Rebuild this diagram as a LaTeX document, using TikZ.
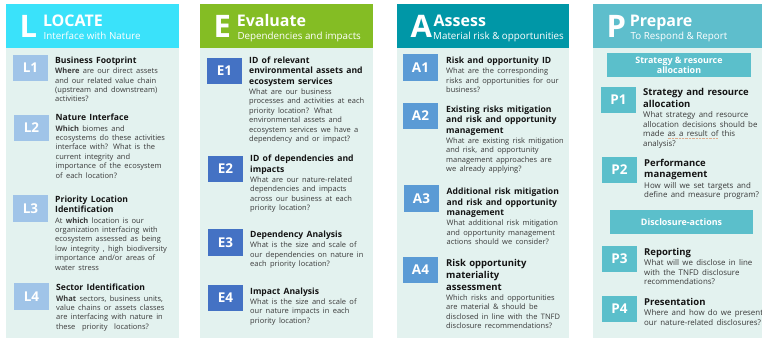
\documentclass[tikz,border=0pt]{standalone}
\usepackage{fontspec}
\setmainfont{Open Sans}

\definecolor{hdrL}{RGB}{58,226,250}
\definecolor{hdrE}{RGB}{132,189,36}
\definecolor{hdrA}{RGB}{0,151,167}
\definecolor{hdrP}{RGB}{94,190,204}
\definecolor{bodybg}{RGB}{227,242,239}
\definecolor{badgeL}{RGB}{160,196,232}
\definecolor{badgeE}{RGB}{68,114,196}
\definecolor{badgeA}{RGB}{91,155,213}
\definecolor{badgeP}{RGB}{91,191,203}
\definecolor{titlecol}{RGB}{20,20,20}
\definecolor{bodycol}{RGB}{58,58,58}
\definecolor{spell}{RGB}{222,170,140}

% fonts
\newcommand\bigletter{\fontsize{31}{31}\selectfont\bfseries}
\newcommand\hdrtitle{\fontsize{16}{16}\selectfont\bfseries}
\newcommand\hdrsub{\fontsize{9.8}{9.8}\selectfont}
\newcommand\badgefont{\fontsize{13.5}{13.5}\selectfont\bfseries}
\newcommand\tfont{\fontsize{8.6}{10.4}\selectfont\bfseries\color{titlecol}}
\newcommand\tfontL{\fontsize{9.5}{11.6}\selectfont\bfseries\color{titlecol}}
\newcommand\bfont{\fontsize{7.5}{9.4}\selectfont\color{bodycol}}
\newcommand\bfontP{\fontsize{7.9}{9.5}\selectfont\color{bodycol}}
\newcommand\subfont{\fontsize{8.9}{10}\selectfont\bfseries}

% one entry: title font, title, body font, body
\newcommand\entry[4]{{\leavevmode#1\rule{0pt}{7.5pt}#2\par}\vspace{0.8pt}{\leavevmode#3#4\par}}
% spell-check style dotted underline
\newlength\spellw
\newcommand\spellmark[1]{\settowidth\spellw{#1}%
  \rlap{\textcolor{spell}{\hbox to\spellw{\xleaders\hbox{\rule[-1.9pt]{0.8pt}{0.4pt}\kern0.6pt}\hfill}}}#1}

\tikzset{
  hdrbox/.style={rectangle, inner sep=0, anchor=north west, minimum width=#1, minimum height=44pt},
  panel/.style={rectangle, inner sep=0, anchor=north west, fill=bodybg, minimum width=#1, minimum height=290pt},
  letter/.style={anchor=base west, inner sep=0, text=white, font=\bigletter},
  htitle/.style={anchor=base west, inner sep=0, text=white, font=\hdrtitle, text depth=0pt},
  hsub/.style={anchor=base west, inner sep=0, text=white, font=\hdrsub, text height=5pt},
  badge/.style={rectangle, inner sep=0, minimum width=35pt, minimum height=26.5pt, text=white, font=\badgefont},
  txt/.style={anchor=north west, inner sep=0, align=left, text width=150pt},
  subhead/.style={rectangle, inner sep=0, fill=badgeP, text=white, font=\subfont, align=center, minimum width=#1, minimum height=24pt}
}

\begin{document}
\begin{tikzpicture}[x=1pt,y=-1pt]
\useasboundingbox[fill=white] (0,0) rectangle (762,340);

% ---------------- panels and headers ----------------
\node[panel=173pt] (Lbody) at (6,48) {};
\node[panel=173pt] (Ebody) at (200,48) {};
\node[panel=172pt] (Abody) at (397,48) {};
\node[panel=169pt] (Pbody) at (593,48) {};

\node[hdrbox=173pt, fill=hdrL] (Lhdr) at (6,4) {};
\node[hdrbox=173pt, fill=hdrE] (Ehdr) at (200,4) {};
\node[hdrbox=172pt, fill=hdrA] (Ahdr) at (397,4) {};
\node[hdrbox=169pt, fill=hdrP] (Phdr) at (593,4) {};

\node[letter] (Lletter) at (19.5,37) {L};
\node[htitle] (Ltitle) at (42.8,27) {LOCATE};
\node[hsub]   (Lsub)   at (43.5,39) {Interface with Nature};

\node[letter] (Eletter) at (213.5,37) {E};
\node[htitle] (Etitle) at (236.6,27) {Evaluate};
\node[hsub]   (Esub)   at (237.3,39) {Dependencies and impacts};

\node[letter] (Aletter) at (410.5,37) {A};
\node[htitle] (Atitle) at (433.5,27) {Assess};
\node[hsub]   (Asub)   at (433,39) {Material risk \& opportunities};

\node[letter] (Pletter) at (606.5,37) {P};
\node[htitle] (Ptitle) at (629.6,27) {Prepare};
\node[hsub]   (Psub)   at (630.5,39) {To Respond \& Report};

% ---------------- LOCATE ----------------
\node[badge, fill=badgeL] (L1b) at (30.5,68) {L1};
\node[badge, fill=badgeL] (L2b) at (31.5,128) {L2};
\node[badge, fill=badgeL] (L3b) at (30.5,208.5) {L3};
\node[badge, fill=badgeL] (L4b) at (31.5,296.5) {L4};

\node[txt] (L1t) at (55,55.8) {\entry{\tfont}{Business Footprint}{\bfont}{%
\textbf{Where} are our direct assets\\and our related value chain\\(upstream and downstream)\\activities?}};
\node[txt] (L2t) at (55.5,113.2) {\entry{\tfont}{Nature Interface}{\bfont}{%
\textbf{Which} biomes and\\ecosystems do these activities\\interface with? What is the\\current integrity and\\importance of the ecosystem\\of each location?}};
\node[txt] (L3t) at (55,194.8) {\entry{\tfont}{Priority Location\\Identification}{\bfont}{%
At \textbf{which} location is our\\organization interfacing with\\ecosystem assessed as being\\low integrity , high biodiversity\\importance and/or areas of\\water stress}};
\node[txt] (L4t) at (56,283.2) {\entry{\tfont}{Sector Identification}{\bfont}{%
\textbf{What} sectors, business units,\\value chains or assets classes\\are interfacing with nature in\\these\ \ priority\ \ locations?}};

% ---------------- EVALUATE ----------------
\node[badge, fill=badgeE] (E1b) at (224.5,71) {E1};
\node[badge, fill=badgeE] (E2b) at (225.5,169) {E2};
\node[badge, fill=badgeE] (E3b) at (225.5,242.5) {E3};
\node[badge, fill=badgeE] (E4b) at (225.5,298) {E4};

\node[txt] (E1t) at (249,55.8) {\entry{\tfont}{ID of relevant\\environmental assets and\\ecosystem services}{\bfont}{%
What are our business\\processes and activities at each\\priority location? What\\environmental assets and\\ecosystem services we have a\\dependency and or impact?}};
\node[txt] (E2t) at (250,154.2) {\entry{\tfont}{ID of dependencies and\\impacts}{\bfont}{%
What are our nature-related\\dependencies and impacts\\across our business at each\\priority location?}};
\node[txt] (E3t) at (250,230) {\entry{\tfont}{Dependency Analysis}{\bfont}{%
What is the size and scale of\\our dependencies on nature in\\each priority location?}};
\node[txt] (E4t) at (250,286.5) {\entry{\tfont}{Impact Analysis}{\bfont}{%
What is the size and scale of\\our nature impacts in each\\priority location?}};

% ---------------- ASSESS ----------------
\node[badge, fill=badgeA] (A1b) at (420.5,67.5) {A1};
\node[badge, fill=badgeA] (A2b) at (420.5,116) {A2};
\node[badge, fill=badgeA] (A3b) at (421.5,198.5) {A3};
\node[badge, fill=badgeA] (A4b) at (420.5,270) {A4};

\node[txt] (A1t) at (446,55.8) {\entry{\tfont}{Risk and opportunity ID}{\bfont}{%
What are the corresponding\\risks and opportunities for our\\business?}};
\node[txt] (A2t) at (446,104.5) {\entry{\tfont}{Existing risks mitigation\\and risk and opportunity\\management}{\bfont}{%
What are existing risk mitigation\\and risk, and opportunity\\management approaches are\\we already applying?}};
\node[txt] (A3t) at (446.5,187.2) {\entry{\tfont}{Additional risk mitigation\\and risk and opportunity\\management}{\bfont}{%
What additional risk mitigation\\and opportunity management\\actions should we consider?}};
\node[txt] (A4t) at (446,259.2) {\entry{\tfontL}{Risk opportunity\\materiality\\assessment}{\bfont}{%
Which risks and opportunities\\are material \& should be\\disclosed in line with the TNFD\\disclosure recommendations?}};

% ---------------- PREPARE ----------------
\node[subhead=144pt] (S1) at (679,65) {Strategy \& resource\\allocation};
\node[subhead=143pt] (S2) at (681.5,222) {Disclosure-actions};

\node[badge, fill=badgeP] (P1b) at (618.5,100) {P1};
\node[badge, fill=badgeP] (P2b) at (619.5,170) {P2};
\node[badge, fill=badgeP] (P3b) at (619.5,259) {P3};
\node[badge, fill=badgeP] (P4b) at (619.5,309) {P4};

\node[txt] (P1t) at (643,88) {\entry{\tfontL}{Strategy and resource\\allocation}{\bfontP}{%
What strategy and resource\\allocation decisions should be\\made \spellmark{as a result of} this\\analysis?}};
\node[txt] (P2t) at (644,158.5) {\entry{\tfontL}{Performance\\management}{\bfontP}{%
How will we set targets and\\define and measure program?}};
\node[txt] (P3t) at (644,247.5) {\entry{\tfontL}{Reporting}{\bfontP}{%
What will we disclose in line\\with the TNFD disclosure\\recommendations?}};
\node[txt] (P4t) at (644,297.5) {\entry{\tfontL}{Presentation}{\bfontP}{%
Where and how do we present\\our nature-related disclosures?}};
\end{tikzpicture}
\end{document}
